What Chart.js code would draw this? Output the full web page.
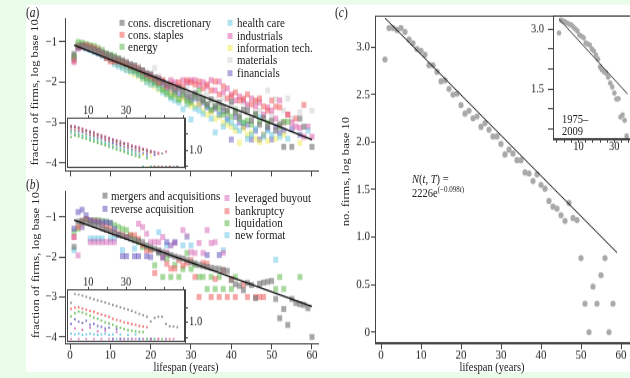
<!DOCTYPE html>
<html>
<head>
<meta charset="utf-8">
<script src="https://cdn.jsdelivr.net/npm/chart.js@4.4.0/dist/chart.umd.min.js"></script>
<style>
  html, body { margin: 0; padding: 0; width: 630px; height: 378px; overflow: hidden; background: #eafdea; }
  /* the figure is laid out at 630x315 and stretched vertically to 378 */
  #fig { position: absolute; left: 0; top: 0; width: 630px; height: 315px; overflow: hidden;
         transform: scaleY(1.2); transform-origin: 0 0;
         font-family: "Liberation Serif", "DejaVu Serif", serif; color: #222; }
  #paper { position: absolute; left: 26px; top: 4.2px; width: 604px; height: 306px; background: #fff; }
  canvas { position: absolute; }
  .txt { position: absolute; white-space: nowrap; font-size: 11px; line-height: 1; transform: translateY(-50%); }
  .ttl { position: absolute; white-space: nowrap; font-size: 10.5px; line-height: 1; transform: translate(-50%, -50%); }
  .ttl.v { transform: translate(-50%, -50%) rotate(-90deg); }
  .key { position: absolute; width: 5px; height: 5px; transform: translate(-50%, -50%); }
  sup { font-size: 7px; vertical-align: 4px; line-height: 0; }
</style>
</head>
<body>
<div id="fig"><div id="paper"></div></div>
<script>
// ---- panel (a): fraction of firms by sector ----
const years = [1,2,3,4,5,6,7,8,9,10,11,12,13,14,15,16,17,18,19,20,21,22,23,24,25,26,27,28,29,30,
               31,32,33,34,35,36,37,38,39,40,41,42,43,44,45,46,47,48,49,50,51,52,53,54,55,56,57,58,59,60];

const sectorNames = ['cons. discretionary', 'cons. staples', 'energy', 'health care', 'industrials',
                     'information tech.', 'materials', 'financials'];
const sectorColors = ['rgba(120,120,120,0.65)', 'rgba(240,80,80,0.5)', 'rgba(80,180,60,0.5)', 'rgba(80,190,225,0.45)',
                      'rgba(215,60,150,0.45)', 'rgba(240,230,60,0.45)', 'rgba(200,200,200,0.45)', 'rgba(100,85,190,0.5)'];

const consDiscretionary = [
  -1.30,-1.10,-1.08,-1.12,-1.15,-1.18,-1.22,-1.25,-1.30,-1.33,
  -1.38,-1.42,-1.45,-1.50,-1.55,-1.58,-1.66,-1.70,-1.78,-1.80,
  -1.88,-1.92,-2.00,-2.05,-2.10,-2.18,-2.15,-2.20,-2.30,-2.35,
  -2.28,-2.40,-2.45,-2.55,-2.42,-2.60,-2.50,-2.62,-2.70,-2.48,
  -2.75,-2.85,-2.68,-2.70,-2.95,-2.78,-3.05,-2.88,-3.10,-2.95,
  -3.20,-3.05,-3.60,null,-3.60,null,-2.90,-3.10,null,-3.60];
const consStaples = [
  -1.45,-1.12,-1.10,-1.08,-1.12,-1.15,-1.20,-1.30,-1.40,-1.48,
  -1.48,-1.45,-1.50,-1.52,-1.60,-1.62,-1.65,-1.72,-1.80,-1.85,
  -1.90,-2.00,-1.95,-2.10,-2.05,-2.12,-2.00,-2.10,-1.95,-2.00,
  -2.05,-1.98,-2.15,-2.05,-2.20,-1.98,-2.30,-2.10,-2.40,-2.35,
  -2.25,-2.45,-2.40,-2.30,-2.55,-2.45,-2.40,-2.60,-2.70,-2.45,
  -2.60,-2.62,null,-2.80,null,-2.90,null,-2.56,null,null];
const energy = [
  -1.35,-1.00,-1.02,-1.05,-1.08,-1.10,-1.15,-1.20,-1.28,-1.32,
  -1.35,-1.40,-1.48,-1.55,-1.62,-1.70,-1.75,-1.85,-1.90,-1.92,
  -2.00,-2.05,-2.18,-2.25,-2.35,-2.30,-2.42,-2.30,-2.45,-2.50,
  -2.35,-2.20,-2.45,-2.55,-2.68,-2.60,-2.65,-2.80,-2.75,-2.85,
  -2.70,-2.90,-3.00,-2.95,-3.05,-2.80,-2.98,null,-3.00,null,
  null,-3.10,-2.98,-2.98,null,null,null,null,null,null];
const healthCare = [
  -1.40,-1.12,-1.10,-1.15,-1.20,-1.25,-1.28,-1.35,-1.40,-1.45,
  -1.55,-1.60,-1.65,-1.70,-1.72,-1.75,-1.82,-1.90,-2.00,-2.05,
  -2.05,-2.15,-2.25,-2.30,-2.40,-2.45,-2.50,-2.67,-2.55,-2.92,
  -2.65,-2.70,-2.78,-2.60,-2.90,-3.24,-2.80,-3.10,-2.95,-3.00,
  -3.10,-3.20,-3.00,-3.40,-3.30,-3.15,-2.86,-3.35,-3.20,-3.30,
  null,-3.35,null,-3.40,null,null,null,null,-3.20,null];
const industrials = [
  -1.50,-1.15,-1.12,-1.10,-1.12,-1.18,-1.22,-1.28,-1.32,-1.38,
  -1.42,-1.48,-1.50,-1.55,-1.58,-1.62,-1.70,-1.75,-1.80,-1.82,
  -1.95,-1.90,-1.98,-2.05,-1.95,-2.00,-2.10,-1.95,-2.00,-1.95,
  -1.95,-2.08,-2.00,-2.10,-1.95,-2.20,-1.98,-2.25,-2.15,-2.30,
  -2.45,-2.35,-2.45,-2.55,-2.40,-2.60,-2.50,-2.80,-2.62,-2.70,
  -2.90,-2.45,-3.00,-2.80,-3.00,-3.10,-3.13,-3.35,-3.10,-3.35];
const infoTech = [
  -1.38,-1.08,-1.10,-1.12,-1.15,-1.20,-1.25,-1.32,-1.38,-1.45,
  -1.50,-1.55,-1.62,-1.68,-1.75,-1.80,-1.85,-1.92,-1.98,-2.05,
  -2.10,-2.18,-2.20,-2.30,-2.25,-2.38,-2.45,-2.40,-2.52,-2.58,
  -2.60,-2.55,-2.70,-2.80,-2.75,-2.90,-2.85,-3.00,-3.05,-3.10,
  -3.20,-3.50,-3.15,-3.30,-3.25,-3.40,-3.48,-3.30,-3.45,null,
  -3.40,null,-3.30,null,null,null,-3.50,null,null,null];
const materials = [
  -1.32,-1.05,-1.05,-1.10,-1.12,-1.18,-1.22,-1.28,-1.30,-1.35,
  -1.40,-1.45,-1.50,-1.55,-1.60,-1.65,-1.60,-1.70,-1.75,-1.80,
  -1.65,-1.85,-1.95,-2.00,-2.10,-2.05,-2.15,-2.20,-2.10,-2.30,
  -2.25,-2.40,-2.35,-2.30,-2.50,-2.45,-2.60,-2.40,-2.70,-2.55,
  -2.65,-2.75,-2.50,-2.60,-2.85,-2.48,-2.70,-2.90,-2.20,-2.80,
  -2.42,-3.00,-2.70,-2.40,-2.90,null,-2.74,null,null,-2.70];
const financials = [
  -1.42,-1.15,-1.12,-1.15,-1.18,-1.22,-1.28,-1.32,-1.38,-1.42,
  -1.48,-1.55,-1.58,-1.62,-1.70,-1.72,-1.80,-1.85,-1.90,-1.95,
  -2.00,-2.02,-2.10,-2.15,-2.20,-2.25,-2.30,-2.35,-2.40,-2.45,
  -2.40,-2.55,-2.50,-2.62,-2.70,-2.65,-2.80,-2.72,-2.90,-3.42,
  -2.86,-3.00,-3.10,-3.05,-3.42,-3.20,-3.42,-3.30,-3.15,-3.42,
  -3.10,-3.25,-3.20,null,-3.15,null,-3.30,null,null,null];
const sectorValues = [consDiscretionary, consStaples, energy, healthCare, industrials, infoTech, materials, financials];

const fitAYears = [1, 60];
const fitAValues = [-1.08, -3.42];

// inset of (a): log counts per sector
const insetYears = [1,3,5,7,9,11,13,15,17,19,21,23,25,27,29,31,33,35,37,39,41,43,45,47,49,51,53,55,57];
const insetA = [
  [1.72,1.70,1.68,1.64,1.60,1.55,1.52,1.47,1.42,1.40,1.36,1.30,1.28,1.22,1.20,1.15,1.12,1.08,1.05,1.02,0.98,0.95,0.92,0.48,0.90,0.48,0.48,null,0.48],
  [1.70,1.68,1.64,1.60,1.58,1.52,1.48,1.45,1.40,1.35,1.32,1.28,1.25,1.20,1.18,1.12,1.10,1.05,1.02,1.00,0.95,0.92,0.48,0.88,0.48,null,0.48,null,null],
  [1.40,1.45,1.42,1.38,1.35,1.30,1.26,1.22,1.18,1.15,1.10,1.06,1.02,0.98,0.94,0.90,0.86,0.82,0.78,0.48,0.75,0.48,0.48,null,null,null,null,null,null],
  [1.55,1.52,1.50,1.45,1.42,1.38,1.35,1.30,1.26,1.22,1.18,1.14,1.10,1.06,1.02,0.98,0.95,0.90,0.86,0.48,0.82,0.48,0.48,null,0.48,null,null,0.48,0.48],
  [1.75,1.74,1.70,1.66,1.62,1.58,1.55,1.50,1.46,1.42,1.38,1.34,1.30,1.28,1.22,1.20,1.15,1.12,1.10,1.05,1.02,0.98,0.95,0.92,0.48,0.95,0.48,0.48,0.48],
  [1.58,1.55,1.52,1.48,1.45,1.40,1.36,1.32,1.28,1.24,1.20,1.16,1.12,1.08,1.04,1.00,0.96,0.92,0.88,0.85,0.48,0.80,0.48,0.48,null,0.48,null,null,null],
  [1.50,1.48,1.45,1.42,1.38,1.34,1.30,1.26,1.22,1.18,1.14,1.10,1.06,1.02,0.98,0.94,0.90,0.86,0.82,0.48,0.80,0.48,null,0.48,null,null,null,null,null],
  [1.62,1.60,1.58,1.55,1.50,1.46,1.42,1.38,1.35,1.30,1.26,1.22,1.18,1.15,1.10,1.06,1.02,0.98,0.95,0.90,0.88,0.48,0.85,0.48,null,0.48,null,null,0.48]
];

// ---- panel (b): fraction of firms by mode of exit ----
const exitNames = ['mergers and acquisitions', 'reverse acquisition', 'leveraged buyout', 'bankruptcy', 'liquidation', 'new format'];
const exitColors = ['rgba(120,120,120,0.65)', 'rgba(100,85,190,0.55)', 'rgba(210,80,170,0.45)',
                    'rgba(240,80,80,0.5)', 'rgba(80,180,60,0.5)', 'rgba(80,190,225,0.45)'];

const mergers = [
  -1.75,-1.12,-1.10,-1.12,-1.15,-1.20,-1.22,-1.28,-1.32,-1.36,
  -1.40,-1.44,-1.47,-1.50,-1.54,-1.58,-1.60,-1.63,-1.71,-1.76,
  -1.80,-1.84,-1.88,-1.92,-1.95,-1.99,-2.02,-2.04,-2.08,-2.13,
  -2.16,-2.20,-2.23,-2.25,-2.27,-2.29,-2.30,-2.33,-2.35,-2.58,
  -2.68,-2.72,-2.83,-2.65,-2.70,-3.03,-2.67,-2.64,-2.62,-2.60,
  -3.05,-3.53,-3.30,-3.70,-3.05,-3.15,-3.18,-3.20,-3.28,-4.00];
const reverseAcq = [
  -1.29,-0.88,-0.82,-0.96,-1.08,-1.12,-1.13,-1.13,-1.13,-1.15,
  -1.30,-1.45,-1.98,-1.98,null,-1.98,-1.98,null,-1.98,-2.00,
  null,-1.88,-2.02,-1.63,null,-1.63,null,null,null,null,
  null,null,null,-1.95,null,null,-1.95,null,null,null,
  null,null,null,null,null,null,null,null,null,null,
  null,null,null,null,null,null,null,null,null,null];
const leveragedBuyout = [
  -1.50,-1.96,-1.25,null,-1.63,-1.63,-1.63,-1.63,-1.63,-1.63,
  -1.63,null,null,-1.50,null,null,-1.17,-1.25,-1.42,-1.63,
  -1.63,-1.63,-1.50,-1.88,-1.71,-1.65,null,-1.33,-1.48,-1.88,
  -1.90,-1.65,-1.90,-1.33,-1.65,-1.63,null,-1.90,null,null,
  null,null,null,null,null,null,null,null,null,null,
  null,null,null,null,null,null,null,null,null,null];
const bankruptcy = [
  -1.50,-1.25,-1.10,-1.05,-1.10,-1.10,-1.12,-1.20,-1.25,-1.30,
  -1.38,-1.42,-1.45,-1.50,-1.46,-1.46,-1.55,-1.70,-1.83,-1.83,
  -2.40,-1.85,-2.00,-2.17,-2.29,-2.29,-2.08,-2.21,-2.15,-2.08,
  -2.50,-3.00,-2.15,-2.17,-3.00,-2.55,-3.00,-2.33,-3.00,-2.55,
  -3.00,null,-2.70,-3.00,null,-3.00,-3.00,-3.00,null,null,
  null,null,null,null,null,null,null,null,null,null];
const liquidation = [
  -1.37,-1.29,-1.15,-1.05,-1.10,-1.08,-1.08,-1.10,-1.12,-1.15,
  -1.20,-1.25,-1.30,-1.33,-1.46,-1.55,-1.63,-1.75,-1.75,-1.80,
  -2.21,-1.90,-2.50,-2.04,-2.50,-2.20,-2.50,-2.30,-1.90,-2.30,
  -2.20,-2.50,-2.50,-2.80,-2.50,-2.80,-2.50,-2.80,null,-2.80,
  -2.50,null,null,null,null,null,null,null,null,null,
  -2.80,-2.50,-2.80,null,null,null,-2.50,null,null,null];
const newFormat = [
  -1.83,null,-1.25,null,-1.54,-1.54,-1.54,-1.54,null,-1.54,
  -1.54,null,-1.83,null,null,-1.79,null,null,null,null,
  null,-1.38,null,-1.71,-1.71,null,null,-1.71,-1.50,-1.71,
  null,null,null,null,null,null,null,-1.83,null,null,
  null,null,null,null,null,null,null,null,null,null,
  -2.07,null,null,null,null,null,null,null,null,null];
const exitValues = [mergers, reverseAcq, leveragedBuyout, bankruptcy, liquidation, newFormat];

const fitBYears = [1, 60];
const fitBValues = [-1.08, -3.24];

// inset of (b): log counts per mode of exit
const insetB = [
  [1.65,1.94,1.92,1.89,1.85,1.81,1.77,1.73,1.70,1.66,1.62,1.58,1.54,1.50,1.46,1.42,1.38,1.33,1.28,1.24,1.19,1.03,1.15,1.19,1.19,0.95,0.87,0.86,0.84],
  [0.95,1.10,1.02,0.98,1.05,0.92,0.95,0.88,0.85,0.80,0.82,0.45,0.78,0.45,null,0.45,null,null,0.45,null,null,0.45,null,null,null,null,null,null,null],
  [0.45,0.80,0.45,0.75,0.45,0.82,0.45,0.70,0.45,0.72,0.45,0.45,0.68,0.45,0.45,null,0.45,0.45,null,0.45,null,0.45,null,0.45,null,0.45,null,0.45,null],
  [1.45,1.49,1.50,1.46,1.42,1.38,1.35,1.30,1.26,1.22,1.18,1.12,1.08,1.05,1.00,0.98,0.94,0.92,0.88,0.86,0.84,0.45,null,0.45,null,null,0.45,null,null],
  [1.20,1.30,1.36,1.33,1.28,1.22,1.16,1.12,1.06,1.00,0.96,0.92,0.86,0.82,0.78,0.74,0.72,0.70,0.68,0.68,0.45,null,0.45,null,0.45,null,null,null,null],
  [0.62,0.60,0.62,0.58,0.60,0.62,0.60,0.58,0.60,0.62,0.58,0.60,0.45,0.60,0.45,0.58,0.45,0.60,0.45,0.45,0.45,null,0.45,null,null,0.45,null,null,null]
];

// ---- panel (c): number of firms, log base 10 ----
const cYears = years.slice(0, 58);
const cValues = [
  2.87,3.20,3.20,3.18,3.20,3.16,3.08,3.04,2.98,2.96,
  2.92,2.81,2.81,2.74,2.64,2.65,2.56,2.50,2.51,2.39,
  2.30,2.33,2.25,2.27,2.16,2.20,2.13,2.06,2.06,1.98,
  1.87,1.92,1.88,1.81,1.81,1.68,1.67,1.59,1.66,1.55,
  1.51,1.38,1.32,1.30,1.23,1.17,1.36,1.20,1.18,0.78,
  0.30,0.00,0.48,0.30,0.60,0.78,0.00,0.30];
// fitted curve N(t, T) = 2226 e^(-0.098 t)
const fitN0 = 2226;
const fitRate = 0.098;
const fitCYears = [1, 59];

// inset of (c): firms listed 1975-2009
const insetCYears = [1,2,3,4,5,6,7,8,9,10,11,12,13,14,15,16,17,18,19,20,21,22,23,24,25,26,27,28,29,30,31,32,33,34];
const insetCValues = [
  2.90,3.22,3.20,3.18,3.15,3.12,3.10,3.05,3.00,2.95,
  2.85,2.82,2.78,2.65,2.62,2.60,2.50,2.45,2.35,2.25,
  2.05,1.98,1.93,1.90,1.80,1.65,1.55,1.40,1.25,1.26,
  0.80,0.85,0.72,0.33];
const insetFitYears = [1, 34.5];
const insetFitValues = [3.25, 1.375];

// ---- tick values and labels ----
const ticksAB_y = [-4, -3, -2, -1];
const ticksAB_yLabels = ['\u22124', '\u22123', '\u22122', '\u22121'];
const ticksYears = [0, 10, 20, 30, 40, 50, 60];
const ticksYearsLabels = ['0', '10', '20', '30', '40', '50', '60'];
const ticksC_y = [0, 0.5, 1.0, 1.5, 2.0, 2.5, 3.0];
const ticksC_yLabels = ['0', '0.5', '1.0', '1.5', '2.0', '2.5', '3.0'];
const ticksInsetTop = [10, 20, 30, 40, 50, 60];
const ticksInsetTopLabels = ['10', '', '30', '', '', ''];
const ticksInsetRight = [0.5, 1.0, 1.5];
const ticksInsetRightLabels = ['', '1.0', ''];
const ticksInsetC_y = [0.5, 1.0, 1.5, 2.0, 2.5, 3.0];
const ticksInsetC_yLabels = ['', '', '1.5', '', '', '3.0'];
const ticksInsetC_x = [0, 3.5, 7, 10.5, 14, 17.5, 21, 24.5, 28, 31.5, 35];
const ticksInsetC_xLabels = ['', '', '', '10', '', '', '', '', '30', '', ''];

Chart.defaults.font.family = '"Liberation Serif", "DejaVu Serif", serif';
Chart.defaults.color = '#222';

const fig = document.getElementById('fig');

function points(xs, ys) {
  const out = [];
  xs.forEach((x, i) => { if (ys[i] !== null && ys[i] !== undefined) out.push({ x: x, y: ys[i] }); });
  return out;
}

// white plot background for insets and closed frames
const frameBox = {
  id: 'frameBox',
  beforeDraw(chart, args, o) {
    if (!o.fill) return;
    const a = chart.chartArea, c = chart.ctx;
    c.save(); c.fillStyle = o.fill;
    c.fillRect(a.left, a.top, a.right - a.left, a.bottom - a.top);
    c.restore();
  },
  afterDraw(chart, args, o) {
    if (!o.stroke) return;
    const a = chart.chartArea, c = chart.ctx;
    c.save(); c.strokeStyle = o.stroke; c.lineWidth = 1;
    c.strokeRect(Math.round(a.left) + 0.5, Math.round(a.top) + 0.5,
                 Math.round(a.right - a.left) - 1, Math.round(a.bottom - a.top) - 1);
    c.restore();
  }
};

function axis(position, min, max, values, labels, o) {
  return {
    type: 'linear', position: position, min: min, max: max,
    afterBuildTicks: s => { s.ticks = values.map(v => ({ value: v })); },
    ticks: {
      autoSkip: false, maxRotation: 0, padding: o.pad, color: '#222',
      font: { size: o.font || 11, lineHeight: o.lh || 1 },
      callback: (v, i) => labels[i]
    },
    grid: { display: true, drawOnChartArea: false, drawTicks: true, tickLength: o.tick, color: '#444', lineWidth: 1 },
    border: { display: true, color: '#444', width: 1 }
  };
}

function panel(frame, area, scales, datasets, box) {
  const cv = document.createElement('canvas');
  cv.width = frame.w; cv.height = frame.h;
  cv.style.left = frame.x + 'px'; cv.style.top = frame.y + 'px';
  cv.style.width = frame.w + 'px'; cv.style.height = frame.h + 'px';
  fig.appendChild(cv);
  const side = { left: area.l - frame.x, top: area.t - frame.y,
                 right: frame.x + frame.w - area.r, bottom: frame.y + frame.h - area.b };
  const pad = Object.assign({}, side);
  Object.keys(scales).forEach(k => {
    const s = scales[k];
    const size = side[s.position];
    pad[s.position] = 0;
    s.afterFit = sc => { if (sc.isHorizontal()) sc.height = size; else sc.width = size; };
  });
  return new Chart(cv, {
    type: 'scatter',
    data: { datasets: datasets },
    options: {
      responsive: false, devicePixelRatio: 1, animation: false,
      layout: { padding: pad },
      scales: scales,
      plugins: { legend: { display: false }, tooltip: { enabled: false }, frameBox: box || {} }
    },
    plugins: [frameBox]
  });
}

function fitLine(xs, ys, width) {
  return { data: points(xs, ys), showLine: true, pointRadius: 0, borderColor: '#111', borderWidth: width, order: 0 };
}
function squares(xs, ys, color, r) {
  return { data: points(xs, ys), pointStyle: 'rect', pointRadius: r, pointHoverRadius: r,
           backgroundColor: color, borderWidth: 0, order: 1 };
}
function dots(xs, ys, color, r) {
  return { data: points(xs, ys), pointStyle: 'circle', pointRadius: r, pointHoverRadius: r,
           backgroundColor: color, borderWidth: 0, order: 1 };
}

// panel (a)
panel({ x: 26, y: 5, w: 305, h: 143 }, { l: 65, t: 15, r: 318, b: 142 }, {
  x: axis('bottom', -1.24, 61.49, ticksYears, ticksYears.map(() => ''), { tick: 5, pad: 0 }),
  y: axis('left', -4.185, -0.405, ticksAB_y, ticksAB_yLabels, { tick: 6, pad: 2, lh: 0.01 })
}, [fitLine(fitAYears, fitAValues, 1.3)].concat(sectorValues.map((v, i) => squares(years, v, sectorColors[i], 3.5))));

// panel (b)
panel({ x: 26, y: 150, w: 305, h: 156 }, { l: 65, t: 159, r: 318, b: 286 }, {
  x: axis('bottom', -1.24, 61.49, ticksYears, ticksYearsLabels, { tick: 5, pad: 0 }),
  y: axis('left', -4.156, -0.346, ticksAB_y, ticksAB_yLabels, { tick: 6, pad: 2, lh: 0.01 })
}, [fitLine(fitBYears, fitBValues, 1.3)].concat(exitValues.map((v, i) => squares(years, v, exitColors[i], 3.5))));

// panel (c)
const fitCValues = fitCYears.map(t => Math.log10(fitN0 * Math.exp(-fitRate * t)));
panel({ x: 345, y: 5, w: 300, h: 301 }, { l: 375, t: 13, r: 633, b: 286 }, {
  x: axis('bottom', -1.5, 63, ticksYears, ticksYearsLabels, { tick: 5, pad: 0 }),
  y: axis('left', -0.117, 3.331, ticksC_y, ticksC_yLabels, { tick: 4, pad: 1, lh: 0.01 })
}, [fitLine(fitCYears, fitCValues, 1), dots(cYears, cValues, '#a9a9a9', 2.6)], { stroke: '#444' });

// inset of (a)
panel({ x: 66, y: 84, w: 137, h: 58 }, { l: 67, t: 98, r: 185, b: 140 }, {
  x: axis('top', -1.05, 61.05, ticksInsetTop, ticksInsetTopLabels, { tick: 2, pad: 0, font: 10.5, lh: 0.8 }),
  y: axis('right', 0.45, 2.0, ticksInsetRight, ticksInsetRightLabels, { tick: 3, pad: 1, font: 10.5, lh: 0.01 })
}, insetA.map((v, i) => squares(insetYears, v, sectorColors[i].replace(/[\d.]+\)$/, '0.85)'), 1.2)), { fill: '#fff', stroke: '#444' });

// inset of (b)
panel({ x: 66, y: 227, w: 137, h: 61 }, { l: 67, t: 241, r: 185, b: 285 }, {
  x: axis('top', -1.05, 61.05, ticksInsetTop, ticksInsetTopLabels, { tick: 2, pad: 0, font: 10.5, lh: 0.8 }),
  y: axis('right', 0.35, 2.1, ticksInsetRight, ticksInsetRightLabels, { tick: 3, pad: 1, font: 10.5, lh: 0.01 })
}, insetB.map((v, i) => squares(insetYears, v, exitColors[i].replace(/[\d.]+\)$/, '0.85)'), 1.2)), { fill: '#fff', stroke: '#444' });

// inset of (c)
panel({ x: 528, y: 5, w: 130, h: 126 }, { l: 553, t: 13, r: 650, b: 116 }, {
  x: axis('bottom', -1.95, 45.4, ticksInsetC_x, ticksInsetC_xLabels, { tick: 3, pad: 0, font: 10.5, lh: 0.6 }),
  y: axis('left', 0.246, 3.336, ticksInsetC_y, ticksInsetC_yLabels, { tick: 5, pad: 4, font: 10.5, lh: 0.01 })
}, [fitLine(insetFitYears, insetFitValues, 0.8), dots(insetCYears, insetCValues, '#a9a9a9', 2.3)], { fill: '#fff', stroke: '#444' });

// ---- text: panel letters, axis titles, legends, annotations ----
function addText(html, x, y, cls, size) {
  const d = document.createElement('div');
  d.className = cls || 'txt';
  d.innerHTML = html;
  d.style.left = x + 'px';
  d.style.top = y + 'px';
  if (size) d.style.fontSize = size + 'px';
  fig.appendChild(d);
}
function addKey(color, x, y) {
  const k = document.createElement('div');
  k.className = 'key';
  k.style.left = x + 'px';
  k.style.top = y + 'px';
  k.style.background = color;
  fig.appendChild(k);
}

addText('(<i>a</i>)', 26, 11, 'txt', 11.5);
addText('(<i>b</i>)', 26, 154, 'txt', 11.5);
addText('(<i>c</i>)', 335, 10.6, 'txt', 11.5);

addText('fraction of firms, log base 10', 35, 77, 'ttl v');
addText('fraction of firms, log base 10', 36, 221, 'ttl v');
addText('no. firms, log base 10', 346, 143, 'ttl v');
addText('lifespan (years)', 186, 306, 'ttl');
addText('lifespan (years)', 492, 306, 'ttl');

const legendA = [
  { kx: 122, tx: 128, y: 19.4 }, { kx: 122, tx: 128, y: 29.4 }, { kx: 122, tx: 128, y: 39.4 },
  { kx: 230, tx: 237, y: 19.4 }, { kx: 230, tx: 237, y: 29.7 }, { kx: 230, tx: 237, y: 40.0 },
  { kx: 230, tx: 237, y: 50.3 }, { kx: 230, tx: 237, y: 60.6 }
];
legendA.forEach((p, i) => { addKey(sectorColors[i], p.kx, p.y); addText(sectorNames[i], p.tx, p.y); });

const legendB = [
  { kx: 105, tx: 111, y: 163.3 }, { kx: 105, tx: 111, y: 174.4 },
  { kx: 227, tx: 235, y: 165.3 }, { kx: 227, tx: 235, y: 175.8 },
  { kx: 227, tx: 235, y: 185.6 }, { kx: 227, tx: 235, y: 195.8 }
];
legendB.forEach((p, i) => { addKey(exitColors[i], p.kx, p.y); addText(exitNames[i], p.tx, p.y); });

addText('<i>N</i>(<i>t</i>, <i>T</i>) =', 412, 150, 'txt', 10.5);
addText('2226e<sup>(\u22120.098<i>t</i>)</sup>', 412, 161, 'txt', 10.5);
addText('1975\u2013', 562, 99.6, 'txt', 10.5);
addText('2009', 562, 109.8, 'txt', 10.5);
</script>
</body>
</html>
